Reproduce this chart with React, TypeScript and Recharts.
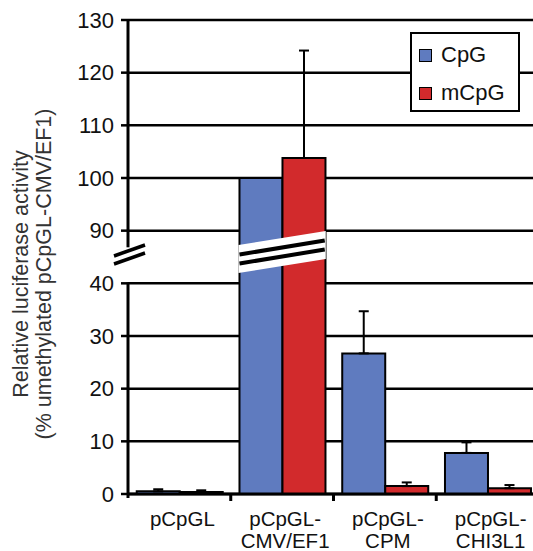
import { BarChart, Bar, XAxis, YAxis, CartesianGrid, ErrorBar, Legend, ReferenceLine, ReferenceArea } from 'recharts'

// categories and labels as printed under the axis
const categories = ['pCpGL', 'pCpGL-CMV/EF1', 'pCpGL-CPM', 'pCpGL-CHI3L1']
const labelLines = [['pCpGL'], ['pCpGL-', 'CMV/EF1'], ['pCpGL-', 'CPM'], ['pCpGL-', 'CHI3L1']]

// relative luciferase activity (% of unmethylated pCpGL-CMV/EF1)
const cpg = [0.5, 100, 26.7, 7.8]
const cpgErr = [0.4, 0, 8, 2]
const mcpg = [0.4, 103.8, 1.5, 1.1]
const mcpgErr = [0.3, 20.4, 0.7, 0.6]

const yTickValues = [0, 10, 20, 30, 40, 90, 100, 110, 120, 130]

// broken axis: 40..90 is squeezed into one step
const BREAK_LOW = 40
const BREAK_HIGH = 90
const STEP = 10
const toAxis = (v: number) => (v <= BREAK_LOW ? v : v - (BREAK_HIGH - BREAK_LOW) + STEP)
const fromAxis = (t: number) => (t <= BREAK_LOW ? t : t + (BREAK_HIGH - BREAK_LOW) - STEP)

const BLUE = '#5f7bbf'
const RED = '#d22a2c'
const FONT = '"Liberation Sans", Arial, sans-serif'

const chartData = categories.map((name, i) => ({
  name,
  cpg: toAxis(cpg[i]),
  cpgErr: [0, toAxis(cpg[i] + cpgErr[i]) - toAxis(cpg[i])],
  mcpg: toAxis(mcpg[i]),
  mcpgErr: [0, toAxis(mcpg[i] + mcpgErr[i]) - toAxis(mcpg[i])],
}))

const XTick = (props: any) => {
  const { x, y, payload } = props
  const lines = labelLines[categories.indexOf(payload.value)] || [payload.value]
  return (
    <g>
      {lines.map((l: string, i: number) => (
        <text key={i} x={x + 3} y={y + 24 + i * 22} textAnchor="middle" fill="#111" fontSize={20.5} fontFamily={FONT}>{l}</text>
      ))}
    </g>
  )
}

const YTitle = (props: any) => {
  const vb = props.viewBox || { x: 0, y: 20, width: 128, height: 474 }
  const cy = vb.y + vb.height / 2 + 17
  return (
    <g fontSize={21.5} fontFamily={FONT} fill="#333">
      <text x={28} y={cy} textAnchor="middle" transform={`rotate(-90 28 ${cy})`}>Relative luciferase activity</text>
      <text x={51} y={cy} textAnchor="middle" transform={`rotate(-90 51 ${cy})`}>(% umethylated pCpGL-CMV/EF1)</text>
    </g>
  )
}

const AxisPiece = (p: any) => (
  <line x1={p.x1} x2={p.x1} y1={Math.min(p.y1, p.y2) - 1} y2={Math.max(p.y1, p.y2) + 4} stroke="#000" strokeWidth={3} />
)

const CatTick = (p: any) => {
  const yb = Math.max(p.y1, p.y2)
  return <line x1={p.x1} x2={p.x1} y1={yb} y2={yb + 7} stroke="#000" strokeWidth={3} />
}

const AxisBreak = (p: any) => {
  const x = p.x1
  const y = p.y1
  return (
    <g stroke="#000" strokeWidth={3.5}>
      <line x1={x - 14} y1={y - 1} x2={x + 17} y2={y - 12} />
      <line x1={x - 14} y1={y + 7} x2={x + 17} y2={y - 4} />
    </g>
  )
}

const BarBreak = (p: any) => {
  const gap = p.width * 0.085
  const x0 = p.x + gap - 1
  const x1 = p.x + p.width - gap + 1
  const yc = p.y + p.height / 2
  const cL = yc + 2
  const cR = yc - 12
  const h = 14
  return (
    <g>
      <polygon points={`${x0},${cL - h} ${x1},${cR - h} ${x1},${cR + h} ${x0},${cL + h}`} fill="#fff" />
      <line x1={x0 + 1} y1={cL - 4.5} x2={x1 - 1} y2={cR - 4.5} stroke="#000" strokeWidth={4} />
      <line x1={x0 + 1} y1={cL + 4.5} x2={x1 - 1} y2={cR + 4.5} stroke="#000" strokeWidth={4} />
    </g>
  )
}

const LegendBox = () => (
  <div style={{ position: 'relative', width: 110, height: 80, border: '2px solid #000', background: '#fff', boxSizing: 'border-box', fontFamily: FONT, fontSize: 22, color: '#111' }}>
    {[['CpG', BLUE], ['mCpG', RED]].map(([label, color], i) => (
      <div key={label} style={{ position: 'absolute', left: 7, top: 8 + i * 38, height: 26, display: 'flex', alignItems: 'center' }}>
        <span style={{ width: 11, height: 11, background: color, border: '1.5px solid #000', display: 'inline-block', marginRight: 9 }} />
        <span>{label}</span>
      </div>
    ))}
  </div>
)

export default function App() {
  return (
    <div style={{ position: 'absolute', left: 0, top: 0, width: 533, height: 551, overflow: 'hidden', background: '#fff' }}>
      <BarChart
        width={545}
        height={551}
        data={chartData}
        margin={{ top: 20, right: 6, bottom: 0, left: 0 }}
        barCategoryGap="8.5%"
        barGap={0}
      >
        <CartesianGrid vertical={false} stroke="#000" strokeWidth={2.5} />
        <XAxis
          dataKey="name"
          interval={0}
          height={57}
          tickLine={false}
          axisLine={{ stroke: '#000', strokeWidth: 3 }}
          tick={<XTick />}
        />
        <YAxis
          type="number"
          domain={[0, toAxis(130)]}
          ticks={yTickValues.map(toAxis)}
          tickFormatter={(t: number) => String(fromAxis(t))}
          interval={0}
          width={128}
          axisLine={false}
          tickLine={{ stroke: '#000', strokeWidth: 2.5 }}
          tickSize={7}
          tickMargin={7}
          tick={{ fill: '#111', fontSize: 22, fontFamily: FONT }}
          label={<YTitle />}
        />
        <Bar dataKey="cpg" name="CpG" fill={BLUE} stroke="#000" strokeWidth={2} isAnimationActive={false}>
          <ErrorBar dataKey="cpgErr" direction="y" stroke="#000" strokeWidth={2} width={5} />
        </Bar>
        <Bar dataKey="mcpg" name="mCpG" fill={RED} stroke="#000" strokeWidth={2} isAnimationActive={false}>
          <ErrorBar dataKey="mcpgErr" direction="y" stroke="#000" strokeWidth={2} width={5} />
        </Bar>
        <ReferenceLine segment={[{ x: categories[0], y: 0 }, { x: categories[0], y: toAxis(BREAK_LOW) }]} position="start" shape={AxisPiece} zIndex={1500} />
        <ReferenceLine segment={[{ x: categories[0], y: 47.6 }, { x: categories[0], y: toAxis(130) }]} position="start" shape={AxisPiece} zIndex={1500} />
        {categories.slice(1).map(c => (
          <ReferenceLine key={c} x={c} position="start" shape={CatTick} zIndex={1500} />
        ))}
        <ReferenceLine y={45} shape={AxisBreak} zIndex={1500} />
        <ReferenceArea x1={categories[1]} x2={categories[1]} y1={44} y2={46} shape={BarBreak} zIndex={1500} />
        <Legend
          layout="horizontal"
          verticalAlign="middle"
          align="center"
          wrapperStyle={{ left: 410, top: 32, width: 110 }}
          content={<LegendBox />}
        />
      </BarChart>
    </div>
  )
}
